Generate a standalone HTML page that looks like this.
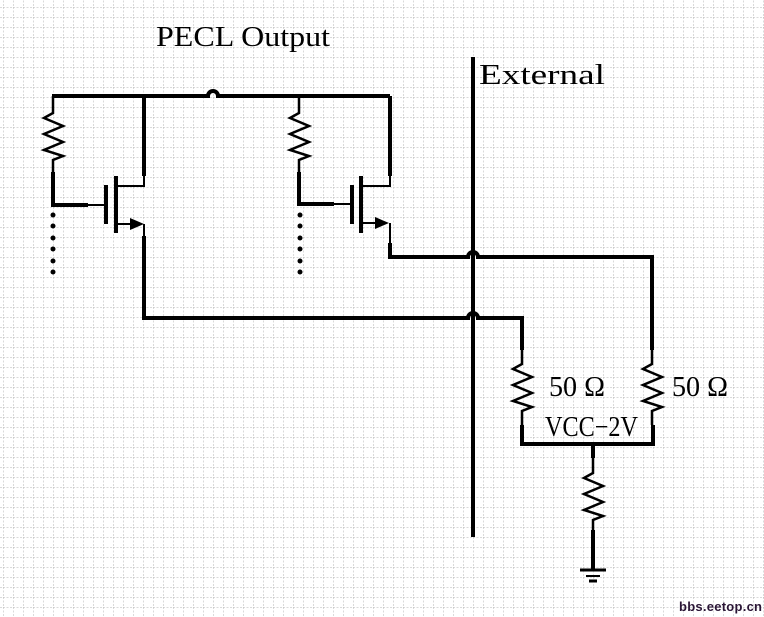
<!DOCTYPE html>
<html><head><meta charset="utf-8"><style>
html,body{margin:0;padding:0;background:#fff;}
svg{display:block;}
</style></head><body>
<svg width="764" height="617" viewBox="0 0 764 617" xmlns="http://www.w3.org/2000/svg">
<defs>
<pattern id="g" x="3" y="7" width="10" height="10" patternUnits="userSpaceOnUse">
<path d="M0 0H10M0 0V10" stroke="#b5b5b5" stroke-width="1" stroke-dasharray="2,1.5" fill="none"/>
</pattern>
</defs>
<rect width="764" height="617" fill="#fff"/>
<rect width="764" height="617" fill="url(#g)"/>
<g stroke="#000" fill="none" stroke-linejoin="miter">
<path d="M52 96H208 A5 5 0 0 1 218 96 H390" stroke-width="4"/>
<path d="M53 96V113 L44 118 L63 126 L44 134 L63 142 L44 150 L63 156 L53 160 V172" stroke-width="2.5"/>
<path d="M53 172V205H88" stroke-width="4"/>
<path d="M88 205H106" stroke-width="2"/>
<path d="M106 185V224" stroke-width="4"/>
<path d="M116 176V233" stroke-width="4"/>
<path d="M116 186H144V176" stroke-width="2"/>
<path d="M144 176V96" stroke-width="4"/>
<path d="M116 224H130" stroke-width="2"/>
<path d="M144 224V236" stroke-width="2"/>
<path d="M144 236V318H468 A5 5 0 0 1 478 318 H522V350" stroke-width="4"/>
<path d="M299 96V113 L290 118 L309 126 L290 134 L309 142 L290 150 L309 156 L299 160 V172" stroke-width="2.5"/>
<path d="M299 172V204H334" stroke-width="4"/>
<path d="M334 204H352" stroke-width="2"/>
<path d="M352 185V224" stroke-width="4"/>
<path d="M361 176V233" stroke-width="4"/>
<path d="M361 186H390V176" stroke-width="2"/>
<path d="M390 176V96" stroke-width="4"/>
<path d="M361 223H375" stroke-width="2"/>
<path d="M390 223V243" stroke-width="2"/>
<path d="M390 243V257H468 A5 5 0 0 1 478 257 H652V350" stroke-width="4"/>
<path d="M473 57V537" stroke-width="4"/>
<path d="M522 350V364 L513 369 L532 377 L513 385 L532 393 L513 401 L532 407 L522 411 V425" stroke-width="2.5"/>
<path d="M652 350V364 L643 369 L662 377 L643 385 L662 393 L643 401 L662 407 L652 411 V425" stroke-width="2.5"/>
<path d="M522 425V444H653V425" stroke-width="4"/>
<path d="M593 444V458" stroke-width="4"/>
<path d="M593 458V473 L584 478 L603 486 L584 494 L603 502 L584 510 L603 516 L593 520 V530" stroke-width="2.5"/>
<path d="M593 530V570" stroke-width="4"/>
<path d="M580 570H606" stroke-width="3"/>
<path d="M586 576H600" stroke-width="2"/>
<path d="M589 581H597" stroke-width="3"/>
</g>
<g fill="#000">
<polygon points="130,218 144,224 130,230"/>
<polygon points="375,217 389,223 375,229"/>
<circle cx="53" cy="215" r="2.5"/><circle cx="53" cy="226" r="2.5"/><circle cx="53" cy="238" r="2.5"/><circle cx="53" cy="249" r="2.5"/><circle cx="53" cy="261" r="2.5"/><circle cx="53" cy="272" r="2.5"/>
<circle cx="300" cy="215" r="2.5"/><circle cx="300" cy="226" r="2.5"/><circle cx="300" cy="238" r="2.5"/><circle cx="300" cy="249" r="2.5"/><circle cx="300" cy="261" r="2.5"/><circle cx="300" cy="272" r="2.5"/>
</g>
<g font-family="'Liberation Serif', serif" fill="#000">
<text x="156" y="46" font-size="28" textLength="174" lengthAdjust="spacingAndGlyphs">PECL Output</text>
<text x="479" y="84" font-size="28" textLength="126" lengthAdjust="spacingAndGlyphs">External</text>
<text x="549" y="396" font-size="28" textLength="56" lengthAdjust="spacingAndGlyphs">50 Ω</text>
<text x="672" y="396" font-size="28" textLength="56" lengthAdjust="spacingAndGlyphs">50 Ω</text>
<text x="545" y="436" font-size="28" textLength="93" lengthAdjust="spacingAndGlyphs">VCC−2V</text>
</g>
<text x="679" y="611" font-family="'Liberation Sans', sans-serif" font-weight="bold" font-size="13" fill="#2a1535" textLength="83">bbs.eetop.cn</text>
</svg>
</body></html>
